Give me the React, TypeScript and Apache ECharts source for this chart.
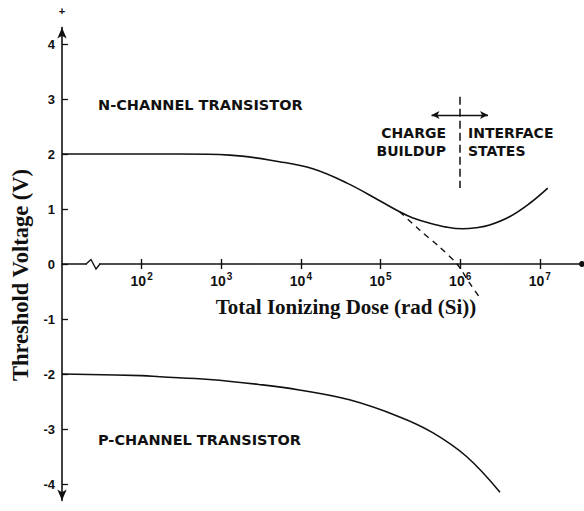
import React, { useEffect, useRef } from "react";
import * as echarts from "echarts";

// x axis is log10(dose in rad (Si)); tick exponents
const xTickExponents = [2, 3, 4, 5, 6, 7];
const yTickValues = [-4, -3, -2, -1, 0, 1, 2, 3, 4];

// N-channel transistor threshold voltage (solid)
const nLogDose = [1.0, 1.5, 2.0, 2.48, 3.11, 3.73, 4.15, 4.58, 4.99, 5.24, 5.4, 5.62, 5.83, 6.03, 6.2, 6.37, 6.62, 6.87, 7.1];
const nVoltage = [2.0, 2.0, 2.0, 2.0, 1.98, 1.86, 1.73, 1.47, 1.15, 0.95, 0.84, 0.74, 0.67, 0.64, 0.66, 0.71, 0.86, 1.1, 1.38];

// N-channel charge buildup extrapolation (dashed)
const dashLogDose = [5.24, 5.49, 5.74, 5.96, 6.12, 6.25];
const dashVoltage = [0.95, 0.62, 0.31, 0.0, -0.35, -0.62];

// P-channel transistor threshold voltage
const pLogDose = [1.0, 2.0, 2.23, 2.85, 3.47, 3.98, 4.61, 5.24, 5.66, 6.08, 6.5];
const pVoltage = [-2.0, -2.03, -2.05, -2.1, -2.19, -2.29, -2.47, -2.78, -3.07, -3.5, -4.15];

// Region divider (charge buildup / interface states)
const dividerLogDose = 6;
const dividerVoltage = [3.04, 1.38];
const arrowLogDose = [5.64, 6.35];
const arrowVoltage = 2.71;

const INK = "#111";
const Y_MIN = -4.3;
const Y_MAX = 4.3;
const GRID_TOP = 27.5;
const GRID_BOTTOM = 10.5;
const CHART_H = 511;

export default function App() {
  const ref = useRef<HTMLDivElement>(null);

  useEffect(() => {
    if (!ref.current) return;
    const chart = echarts.init(ref.current, null, { renderer: "svg" });
    const zip = (xs: number[], ys: number[]) => xs.map((x, i) => [x, ys[i]]);

    // distance (px) from grid bottom up to the V = 0 line
    const plotH = CHART_H - GRID_TOP - GRID_BOTTOM;
    const zeroOffset = -((0 - Y_MIN) / (Y_MAX - Y_MIN)) * plotH;

    const axisCommon = {
      type: "value",
      min: 1,
      max: 7.53,
      position: "bottom",
      offset: zeroOffset,
      splitLine: { show: false },
    };

    chart.setOption({
      animation: false,
      backgroundColor: "#fff",
      grid: { left: 62, right: 2, top: GRID_TOP, bottom: GRID_BOTTOM, containLabel: false, outerBoundsMode: "none" },
      xAxis: [
        {
          ...axisCommon,
          axisLine: {
            onZero: false,
            symbol: ["none", "circle"],
            symbolSize: [6, 6],
            lineStyle: { color: INK, width: 1.6 },
          },
          axisTick: { show: true, length: 5, customValues: xTickExponents, lineStyle: { color: INK, width: 1.4 } },
          axisLabel: {
            customValues: xTickExponents,
            margin: 7,
            color: INK,
            formatter: (v: number) => `{b|10}{s|${v}}`,
            rich: {
              b: { fontFamily: "Liberation Sans", fontWeight: "bold", fontSize: 14, color: INK, lineHeight: 17, verticalAlign: "bottom" },
              s: { fontFamily: "Liberation Sans", fontWeight: "bold", fontSize: 10, color: INK, lineHeight: 17, verticalAlign: "top", padding: [0, 0, 0, 1] },
            },
          },
        },
        {
          ...axisCommon,
          axisLine: { show: false, onZero: false },
          axisTick: { show: true, inside: true, length: 5, customValues: xTickExponents, lineStyle: { color: INK, width: 1.4 } },
          axisLabel: { show: false },
        },
      ],
      yAxis: {
        type: "value",
        min: Y_MIN,
        max: Y_MAX,
        axisLine: {
          show: true,
          onZero: false,
          symbol: ["arrow", "arrow"],
          symbolSize: [7, 11],
          lineStyle: { color: INK, width: 1.6 },
        },
        axisTick: { show: true, inside: true, length: 6, customValues: yTickValues, lineStyle: { color: INK, width: 1.3 } },
        splitLine: { show: false },
        axisLabel: {
          customValues: yTickValues,
          margin: 7,
          color: INK,
          fontFamily: "Liberation Sans",
          fontWeight: "bold",
          fontSize: 13,
          formatter: (v: number) => (v < 0 ? "-" + -v : String(v)),
        },
      },
      series: [
        {
          name: "N-channel",
          type: "line",
          data: zip(nLogDose, nVoltage),
          smooth: 0.4,
          showSymbol: false,
          lineStyle: { color: INK, width: 1.6 },
          silent: true,
          markLine: {
            silent: true,
            symbol: "none",
            label: { show: false },
            lineStyle: { color: INK, width: 1.5, type: [8, 4] },
            data: [[{ coord: [dividerLogDose, dividerVoltage[0]] }, { coord: [dividerLogDose, dividerVoltage[1]] }]],
          },
        },
        {
          name: "N-channel extrapolated",
          type: "line",
          data: zip(dashLogDose, dashVoltage),
          smooth: 0.3,
          showSymbol: false,
          lineStyle: { color: INK, width: 1.4, type: [6, 5] },
          silent: true,
        },
        {
          name: "P-channel",
          type: "line",
          data: zip(pLogDose, pVoltage),
          smooth: 0.4,
          showSymbol: false,
          lineStyle: { color: INK, width: 1.6 },
          silent: true,
          markLine: {
            silent: true,
            symbol: ["arrow", "arrow"],
            symbolSize: [6, 8],
            label: { show: false },
            lineStyle: { color: INK, width: 1.3, type: "solid" },
            data: [[{ coord: [arrowLogDose[0], arrowVoltage] }, { coord: [arrowLogDose[1], arrowVoltage] }]],
          },
        },
      ],
      graphic: [
        { type: "text", x: 62, y: 11, style: { text: "+", fill: INK, fontFamily: "Liberation Sans", fontWeight: "bold", fontSize: 11, align: "center", verticalAlign: "middle" } },
        { type: "rect", shape: { x: 87, y: 261, width: 12, height: 5 }, style: { fill: "#fff" }, z: 100 },
        { type: "polyline", shape: { points: [[86, 264], [91, 259.5], [96, 269], [100, 264]] }, style: { stroke: INK, lineWidth: 1.4, fill: null }, z: 101 },
        { type: "text", x: 98, y: 105, style: { text: "N-CHANNEL TRANSISTOR", fill: INK, fontFamily: "DejaVu Sans", fontWeight: "bold", fontSize: 14.5, align: "left", verticalAlign: "middle" } },
        { type: "text", x: 98, y: 440, style: { text: "P-CHANNEL TRANSISTOR", fill: INK, fontFamily: "DejaVu Sans", fontWeight: "bold", fontSize: 14.5, align: "left", verticalAlign: "middle" } },
        { type: "text", x: 446, y: 133, style: { text: "CHARGE", fill: INK, fontFamily: "DejaVu Sans", fontWeight: "bold", fontSize: 14, align: "right", verticalAlign: "middle" } },
        { type: "text", x: 446, y: 151, style: { text: "BUILDUP", fill: INK, fontFamily: "DejaVu Sans", fontWeight: "bold", fontSize: 14, align: "right", verticalAlign: "middle" } },
        { type: "text", x: 468, y: 133, style: { text: "INTERFACE", fill: INK, fontFamily: "DejaVu Sans", fontWeight: "bold", fontSize: 14, align: "left", verticalAlign: "middle" } },
        { type: "text", x: 468, y: 151, style: { text: "STATES", fill: INK, fontFamily: "DejaVu Sans", fontWeight: "bold", fontSize: 14, align: "left", verticalAlign: "middle" } },
        { type: "text", x: 346, y: 307, style: { text: "Total Ionizing Dose (rad (Si))", fill: INK, fontFamily: "Liberation Serif", fontWeight: "bold", fontSize: 21, align: "center", verticalAlign: "middle" } },
        { type: "text", x: 20, y: 275, rotation: Math.PI / 2, style: { text: "Threshold Voltage (V)", fill: INK, fontFamily: "Liberation Serif", fontWeight: "bold", fontSize: 22.5, align: "center", verticalAlign: "middle" } },
      ],
    });

    return () => chart.dispose();
  }, []);

  return (
    <div
      ref={ref}
      style={{ position: "fixed", left: 0, top: 0, width: 584, height: 511, background: "#fff" }}
    />
  );
}
